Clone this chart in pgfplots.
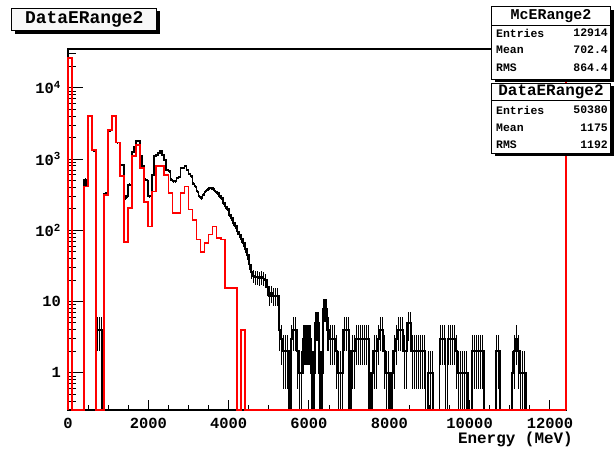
\documentclass[border=0pt]{standalone}
\usepackage{fontspec}
\setmainfont{Liberation Mono}
\usepackage{pgfplots}
\usepackage{pgfplotstable}
\pgfplotsset{compat=1.18}

% black: data, 50 MeV bins (left edge, entries); zero runs kept short
\pgfplotstableread{
E N
0 26000
50 26000
100 0
400 510
450 420
500 4000
550 4000
600 1350
650 1300
700 4
750 4
800 4
850 0
900 320
950 330
1000 2500
1050 2600
1100 4000
1150 4000
1200 1700
1250 1700
1300 830
1350 820
1400 285
1450 300
1500 435
1550 435
1600 1260
1650 1500
1700 1770
1750 1770
1800 1090
1850 800
1900 510
1950 500
2000 297
2050 300
2100 600
2150 1090
2200 1150
2250 1210
2300 1280
2350 1150
2400 980
2450 705
2500 670
2550 510
2600 485
2650 485
2700 540
2750 560
2800 745
2850 745
2900 790
2950 700
3000 620
3050 570
3100 450
3150 410
3200 350
3250 297
3300 283
3350 316
3400 350
3450 370
3500 390
3550 390
3600 380
3650 350
3700 333
3750 300
3800 280
3850 240
3900 215
3950 200
4000 165
4050 148
4100 126
4150 115
4200 96
4250 87
4300 75
4350 66
4400 55
4450 45
4500 33
4550 26
4600 23
4650 22
4700 22
4750 21
4800 22
4850 21
4900 20
4950 16
5000 12
5050 13
5100 12
5150 12
5200 12
5250 4
5300 3
5350 2
5400 2
5450 2
5500 0
5550 3
5600 4
5650 4
5700 2
5750 1
5800 1
5850 3
5900 3
5950 3
6000 3
6050 1
6100 1
6150 5
6200 5
6250 1
6300 1
6350 8
6400 8
6450 4
6500 3
6550 3
6600 3
6650 2
6700 1
6750 1
6800 1
6850 4
6900 4
6950 4
7000 0
7050 2
7100 2
7150 3
7200 3
7250 3
7300 3
7350 3
7400 3
7450 3
7500 0
7550 1
7600 2
7650 2
7700 3
7750 4
7800 4
7850 2
7900 1
7950 1
8000 0
8050 1
8100 2
8150 3
8200 4
8250 4
8300 4
8350 2
8400 2
8450 5
8500 5
8550 2
8600 2
8650 2
8700 2
8750 2
8800 2
8850 2
8900 0
8950 1
9000 1
9050 1
9100 0
9250 3
9300 3
9350 3
9400 0
9450 3
9500 3
9550 3
9600 3
9650 2
9700 1
9750 1
9800 1
9850 1
9900 1
9950 0
10050 2
10100 2
10150 2
10200 2
10250 2
10300 2
10350 0
10650 2
10700 2
10750 0
11050 1
11100 2
11150 3
11200 2
11250 1
11300 1
11350 1
11400 0
12400 0
}\datatab

% red: MC, 100 MeV bins
\pgfplotstableread{
E N
0 0
0 26000
100 0
400 410
500 4000
600 1350
700 0
900 316
1000 2570
1100 4000
1200 1700
1300 570
1400 69
1500 205
1600 1090
1700 1590
1800 755
1900 252
2000 113
2100 350
2200 790
2300 790
2400 600
2500 333
2600 175
2700 175
2800 333
2900 410
3000 195
3100 140
3200 74
3300 50
3400 66
3500 87
3600 113
3700 78
3800 74
3900 15.5
4000 15.5
4100 15.5
4200 0
4300 4
4400 0
12400 0
}\mctab

\begin{document}
\begin{tikzpicture}[font=\bfseries]
\useasboundingbox (0,0) rectangle (615bp,449bp);
\begin{axis}[
    at={(68bp,39bp)}, anchor=south west,
    scale only axis, width=498bp, height=361bp,
    xmin=0, xmax=12400,
    ymode=log, ymin=0.3, ymax=35000,
    clip=false,
    axis line style={line width=1.6bp},
    tick pos=left, tick align=inside,
    tick style={line width=1bp, black},
    major tick length=10bp, minor tick length=5bp,
    ytick style={/pgfplots/major tick length=15bp, /pgfplots/minor tick length=7.5bp},
    xtick={0,2000,4000,6000,8000,10000,12000},
    minor x tick num=3,
    scaled x ticks=false,
    ytick={1,10,100,1000,10000},
    yticklabels={1,10,10\textsuperscript{2},10\textsuperscript{3},10\textsuperscript{4}},
    minor ytick={0.4,0.5,0.6,0.7,0.8,0.9,2,3,4,5,6,7,8,9,20,30,40,50,60,70,80,90,200,300,400,500,600,700,800,900,2000,3000,4000,5000,6000,7000,8000,9000,20000,30000},
    /pgf/number format/assume math mode=true,
    /pgf/number format/1000 sep={},
    ticklabel style={font=\fontsize{15.5}{18}\selectfont\bfseries},
    xticklabel style={anchor=base, yshift=-18bp},
    yticklabel style={anchor=east, inner sep=0pt, xshift=-7bp},
    xlabel={Energy (MeV)},
    xlabel style={at={(rel axis cs:1,0)}, anchor=base east, inner sep=0pt,
        xshift=7bp, yshift=-33bp, font=\fontsize{16}{19}\selectfont\bfseries},
]
\addplot[const plot, black, line width=1.8bp, mark=none]
    table[x=E, y expr={max(\thisrow{N},0.3)}] {\datatab};
% sqrt(N) error bars at the bin centres
\addplot[draw=none, mark=none,
    error bars/.cd, y dir=both, y explicit, error mark=none,
    error bar style={draw=black, solid, line width=1.1bp}]
    table[x expr={\thisrow{E}+25}, y expr={max(\thisrow{N},0.3)},
          y error plus expr={sqrt(\thisrow{N})},
          y error minus expr={max(0,min(sqrt(\thisrow{N}),\thisrow{N}-0.3))}] {\datatab};
\addplot[const plot, red, line width=1.8bp, mark=none]
    table[x=E, y expr={max(\thisrow{N},0.3)}] {\mctab};
\addplot[red, line width=1.8bp, mark=none] coordinates {(12400,0.3) (12400,35000)};
\end{axis}

% title box
\fill[black] (14.7bp,415.3bp) rectangle (159.7bp,437.7bp);
\draw[line width=0.8bp, fill=gray!6] (11.7bp,418.3bp) rectangle (156.7bp,440.7bp);
\node[font=\fontsize{18}{20}\selectfont\bfseries] at (84.2bp,429.5bp) {DataERange2};

% stats box McERange2
\fill[black] (494.7bp,366.7bp) rectangle (613.7bp,439.3bp);
\draw[line width=0.8bp, fill=white] (491.7bp,369.7bp) rectangle (610.7bp,442.3bp);
\draw[line width=0.8bp] (491.7bp,424bp) -- (610.7bp,424bp);
\node[font=\fontsize{15}{17}\selectfont\bfseries] at (551bp,433.3bp) {McERange2};
\begin{scope}[every node/.style={font=\fontsize{11.5}{13}\selectfont\bfseries, inner sep=0pt}]
\node[anchor=west] at (496bp,416bp) {Entries};
\node[anchor=east] at (608bp,416bp) {12914};
\node[anchor=west] at (496bp,399bp) {Mean};
\node[anchor=east] at (608bp,399bp) {702.4};
\node[anchor=west] at (496bp,381bp) {RMS};
\node[anchor=east] at (608bp,381bp) {864.4};
\end{scope}

% stats box DataERange2
\fill[black] (494.7bp,292.7bp) rectangle (613.7bp,362.7bp);
\draw[line width=0.8bp, fill=white] (491.7bp,295.7bp) rectangle (610.7bp,365.7bp);
\draw[line width=0.8bp] (491.7bp,349bp) -- (610.7bp,349bp);
\node[font=\fontsize{16}{18}\selectfont\bfseries] at (551bp,357.5bp) {DataERange2};
\begin{scope}[every node/.style={font=\fontsize{11.5}{13}\selectfont\bfseries, inner sep=0pt}]
\node[anchor=west] at (496bp,339bp) {Entries};
\node[anchor=east] at (608bp,339bp) {50380};
\node[anchor=west] at (496bp,321bp) {Mean};
\node[anchor=east] at (608bp,321bp) {1175};
\node[anchor=west] at (496bp,304bp) {RMS};
\node[anchor=east] at (608bp,304bp) {1192};
\end{scope}
\end{tikzpicture}
\end{document}
